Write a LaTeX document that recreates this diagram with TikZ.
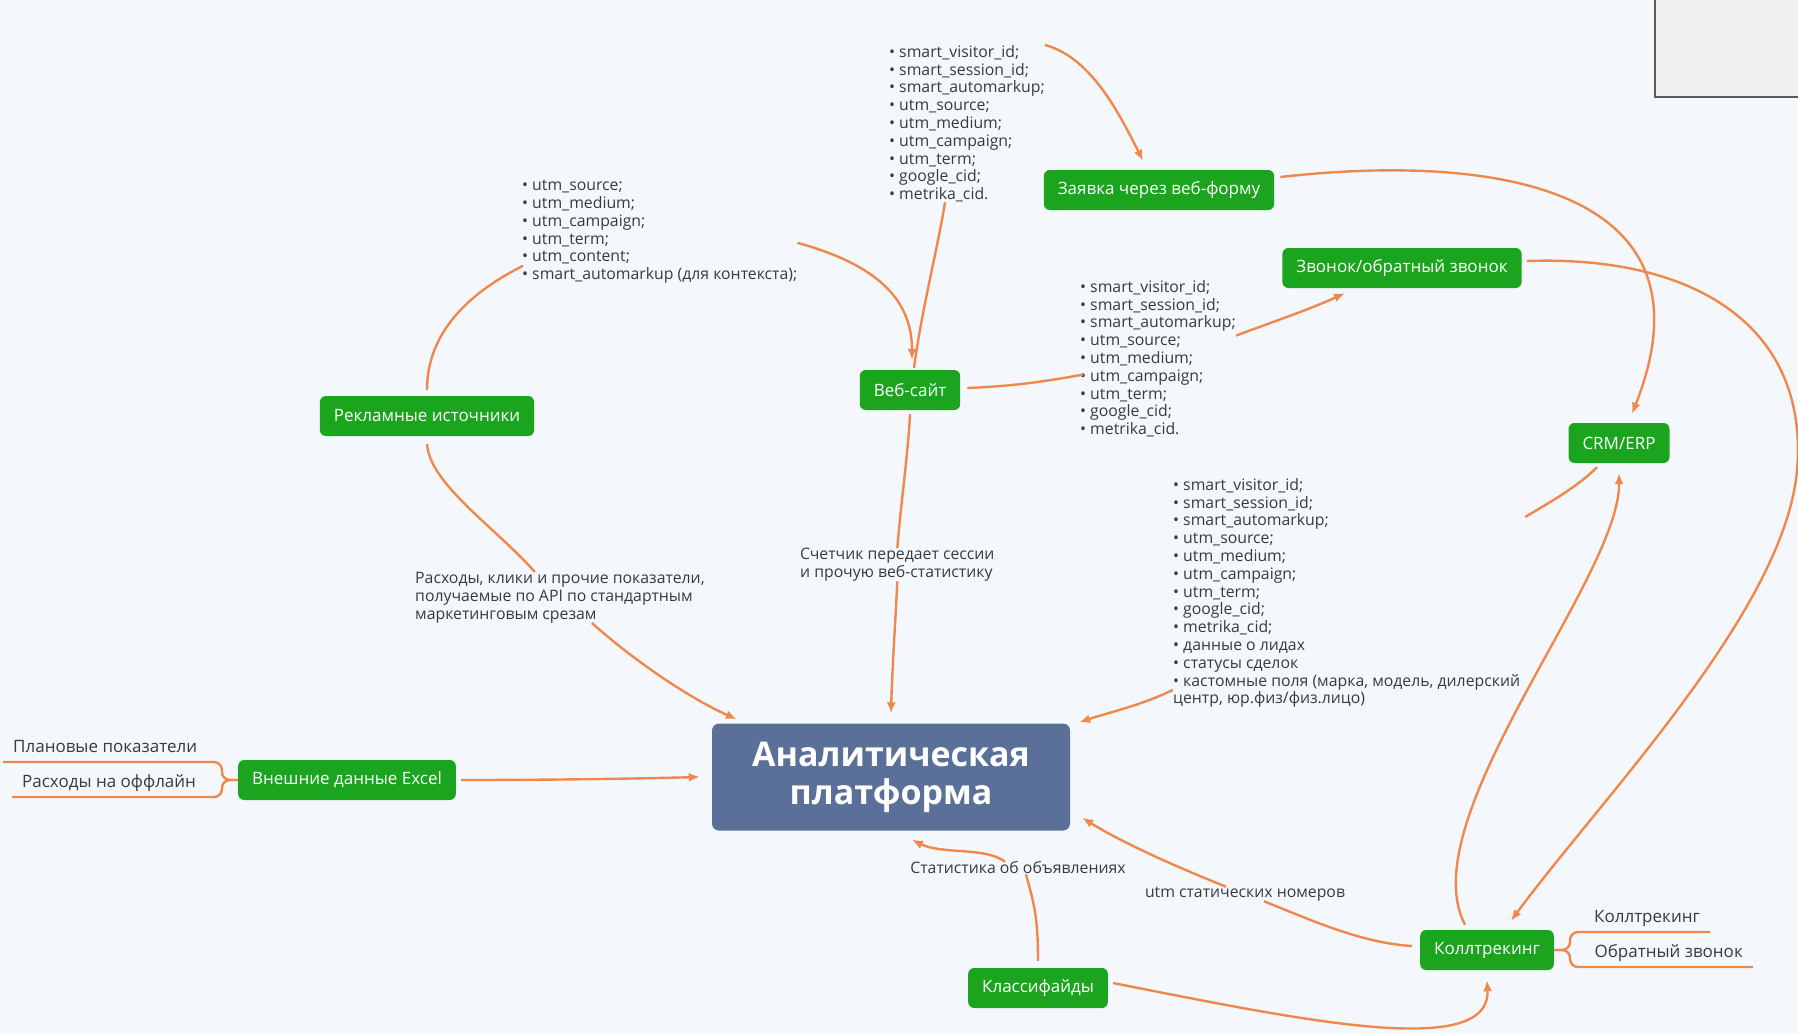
\documentclass[tikz,border=0pt]{standalone}
\usepackage{fontspec}
\setmainfont{Open Sans}
\usetikzlibrary{arrows.meta,calc}
\definecolor{bgpaper}{RGB}{244,248,252}
\definecolor{mmgreen}{RGB}{27,165,30}
\definecolor{mmblue}{RGB}{90,112,153}
\definecolor{mmorange}{RGB}{240,136,76}
\definecolor{mmtext}{RGB}{55,58,64}
\tikzset{
  topic/.style={rectangle, rounded corners=6pt, fill=mmgreen, text=white, minimum height=40pt, inner xsep=14pt, font=\fontsize{17}{20}\selectfont},
  central/.style={rectangle, rounded corners=7pt, fill=mmblue, text=white, minimum width=358pt, minimum height=107pt, align=center, font=\fontsize{34}{38}\selectfont\bfseries},
  params/.style={anchor=north west, inner sep=0pt, align=left, text=mmtext, font=\fontsize{15.8}{17.8}\selectfont},
  note/.style={inner sep=0pt, align=left, text=mmtext, font=\fontsize{15.8}{17.8}\selectfont},
  leaf/.style={inner xsep=10pt, inner ysep=6pt, text height=11pt, text depth=3pt, text=mmtext, font=\fontsize{17}{20}\selectfont},
  link/.style={draw=mmorange, line width=2.4pt},
  arrow/.style={link, -{Latex[length=11pt,width=9pt]}},
  link bracket/.style={link, rounded corners=8pt}
}

\begin{document}
\begin{tikzpicture}[x=1pt, y=-1pt]
  \useasboundingbox (0,0) rectangle (1798,1034);
  \fill[bgpaper] (0,0) rectangle (1798,1034);
  \draw[draw=black!65, line width=2pt, fill=black!6] (1655,-5) rectangle (1805,97);

  \node[central] (plat) at (891,777) {Аналитическая\\платформа};
  \node[topic] (zayav) at (1159,190) {Заявка через веб-форму};
  \node[topic] (call) at (1402,268) {Звонок/обратный звонок};
  \node[topic] (web) at (910,390) {Веб-сайт};
  \node[topic] (ads) at (427,416) {Рекламные источники};
  \node[topic] (crm) at (1619,443) {CRM/ERP};
  \node[topic] (excel) at (347,780) {Внешние данные Excel};
  \node[topic] (classif) at (1038,988) {Классифайды};
  \node[topic] (calltr) at (1487,950) {Коллтрекинг};

  \node[params] (lst1) at (889,45) {• smart\_visitor\_id;\\• smart\_session\_id;\\• smart\_automarkup;\\• utm\_source;\\• utm\_medium;\\• utm\_campaign;\\• utm\_term;\\• google\_cid;\\• metrika\_cid.};
  \node[params] (lst2) at (522,180) {• utm\_source;\\• utm\_medium;\\• utm\_campaign;\\• utm\_term;\\• utm\_content;\\• smart\_automarkup (для контекста);};
  \node[params] (lst3) at (1080,280) {• smart\_visitor\_id;\\• smart\_session\_id;\\• smart\_automarkup;\\• utm\_source;\\• utm\_medium;\\• utm\_campaign;\\• utm\_term;\\• google\_cid;\\• metrika\_cid.};
  \node[params] (lst4) at (1173,478) {• smart\_visitor\_id;\\• smart\_session\_id;\\• smart\_automarkup;\\• utm\_source;\\• utm\_medium;\\• utm\_campaign;\\• utm\_term;\\• google\_cid;\\• metrika\_cid;\\• данные о лидах\\• статусы сделок\\• кастомные поля (марка, модель, дилерский\\центр, юр.физ/физ.лицо)};

  \node[note, anchor=north west] (costs) at (415,572) {Расходы, клики и прочие показатели,\\получаемые по API по стандартным\\маркетинговым срезам};
  \node[note, anchor=north west] (counter) at (800,548) {Счетчик передает сессии\\и прочую веб-статистику};
  \node[note] (stats) at (1018,868) {Статистика об объявлениях};
  \node[note] (utm) at (1245,894) {utm статических номеров};

  \node[leaf, anchor=south west] (plan) at (3,762) {Плановые показатели};
  \node[leaf, anchor=south west] (offl) at (12,797) {Расходы на оффлайн};
  \node[leaf, anchor=south east] (sub1) at (1710,932) {Коллтрекинг};
  \node[leaf, anchor=south east] (sub2) at (1753,967) {Обратный звонок};
  \coordinate (edge) at (1797,470);

  \draw[arrow] (lst1.north east) .. controls +(45,12) and +(-25,-50) .. ([xshift=-16,yshift=9]zayav.north);
  \draw[arrow] ([xshift=6,yshift=13]zayav.east) .. controls +(221,-25) and +(88,-223) .. ([xshift=13,yshift=9]crm.north);
  \draw[arrow] ([xshift=5,yshift=7]call.east) .. controls +(173,-6) and +(12,-140) .. (edge) .. controls +(-12,140) and +(89,-121) .. ([xshift=24,yshift=9]calltr.north);
  \draw[link] ([xshift=7,yshift=2]web.east) .. controls +(45,-2) and +(-45,8) .. ([xshift=3,yshift=-16]lst3.west);
  \draw[arrow] ([yshift=23]lst3.east) .. controls +(40,-15) and +(-40,18) .. ([xshift=-57,yshift=-5]call.south);
  \draw[link] ([xshift=4,yshift=2]web.north) .. controls +(8,-60) and +(-6,40) .. ([xshift=-22]lst1.south);
  \draw[arrow] ([yshift=-11]lst2.east) .. controls +(80,22) and +(0,-60) .. ([xshift=2,yshift=10]web.north);
  \draw[link] ([yshift=6]ads.north) .. controls +(0,-60) and +(-50,25) .. ([xshift=1,yshift=-34]lst2.west);
  \draw[link] ([yshift=-8]ads.south) .. controls +(3,40) and +(-40,-45) .. ([xshift=-25]costs.north);
  \draw[arrow] ([xshift=32]costs.south) .. controls +(45,40) and +(-45,-20) .. ([xshift=25,yshift=4]plat.north west);
  \draw[link] ([yshift=-4]web.south) .. controls +(-2,40) and +(3,-40) .. (counter.north);
  \draw[arrow] (counter.south) .. controls +(-2,40) and +(1,-40) .. ([yshift=10]plat.north);
  \draw[arrow] ([xshift=5]excel.east) .. controls +(80,0) and +(-80,2) .. ([xshift=-12]plat.west);
  \draw[arrow] ([yshift=18]lst4.south west) .. controls +(-30,15) and +(30,-10) .. ([xshift=9,yshift=1]plat.north east);
  \draw[link] ([xshift=-22,yshift=-4]crm.south) .. controls +(-20,20) and +(25,-15) .. ([xshift=5,yshift=-39]lst4.north east);
  \draw[arrow] ([xshift=-22,yshift=5]calltr.north) .. controls +(-55,-105) and +(1,105) .. ([yshift=-10]crm.south);
  \draw[link] ([xshift=-8,yshift=4]calltr.west) .. controls +(-50,-3) and +(50,20) .. ([xshift=19]utm.south);
  \draw[arrow] ([xshift=-19]utm.north) .. controls +(-50,-20) and +(40,25) .. ([xshift=12,yshift=13]plat.south east);
  \draw[link] ([yshift=7]classif.north) .. controls +(0,-45) and +(8,30) .. ([xshift=8]stats.south);
  \draw[arrow] ([xshift=-13]stats.north) .. controls +(-20,-15) and +(30,15) .. ([xshift=21,yshift=-9]plat.south);
  \draw[arrow] ([xshift=5,yshift=5]classif.east) .. controls +(188,37) and +(4,80) .. ([yshift=-10]calltr.south);

  \draw[link bracket] (excel.west) -- ++(-16,0) |- (plan.south west);
  \draw[link bracket] (excel.west) -- ++(-16,0) |- (offl.south west);
  \draw[link bracket] (calltr.east) -- ++(16,0) |- (sub1.south east);
  \draw[link bracket] (calltr.east) -- ++(16,0) |- (sub2.south east);
\end{tikzpicture}
\end{document}
